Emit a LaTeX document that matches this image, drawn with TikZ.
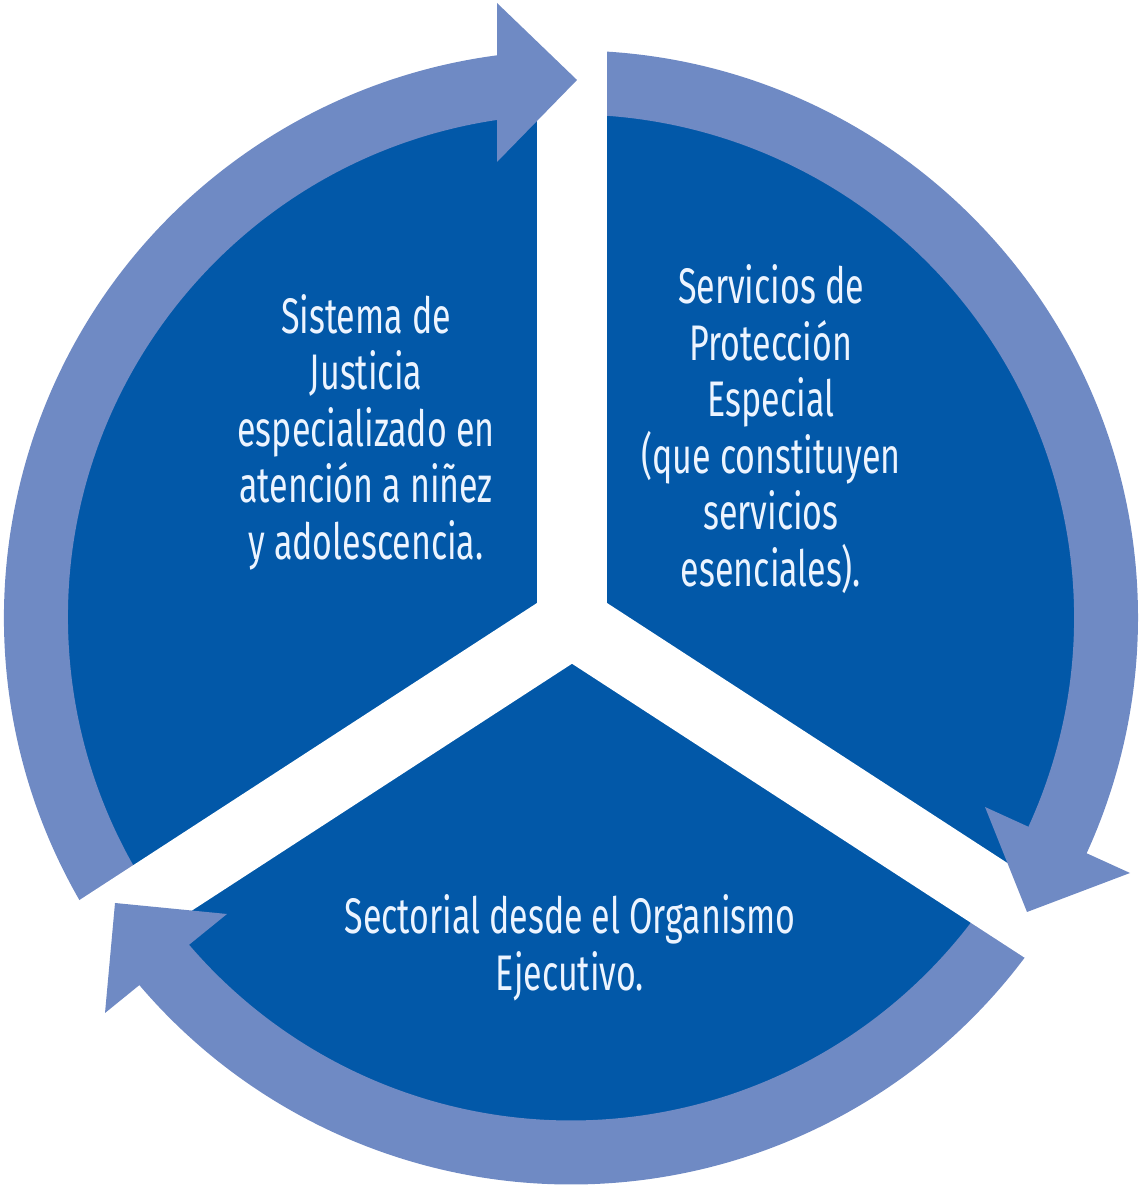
\documentclass[tikz,border=0pt]{standalone}
\usepackage{fontspec}
\setmainfont{Fira Sans}[FakeStretch=0.68]
\definecolor{darkblue}{RGB}{2,88,168}
\definecolor{lightblue}{RGB}{111,138,196}
\definecolor{txt}{RGB}{236,244,255}
\tikzset{
  ringpart/.style={fill=lightblue},
  gapbar/.style={draw=white,line width=70pt},
  label/.style={text=txt,align=center,font=\fontsize{50}{56.5}\selectfont,inner sep=0pt}
}
\begin{document}
\begin{tikzpicture}[x=1pt,y=1pt]
\useasboundingbox (0,0) rectangle (1140,1188);
\coordinate (O) at (571,570.5);
\coordinate (G) at (572,566);
% disc
\fill[darkblue] (O) circle[radius=505];
% ring bodies
\fill[ringpart] ([shift={(213:567)}]O) arc[start angle=213,end angle=97,radius=567]
  -- ([shift={(97:503)}]O) arc[start angle=97,end angle=213,radius=503] -- cycle;
\fill[ringpart] ([shift={(90:567)}]O) arc[start angle=90,end angle=-25.6,radius=567]
  -- ([shift={(-25.6:503)}]O) arc[start angle=-25.6,end angle=90,radius=503] -- cycle;
\fill[ringpart] ([shift={(-33:567)}]O) arc[start angle=-33,end angle=-140.5,radius=567]
  -- ([shift={(-140.5:503)}]O) arc[start angle=-140.5,end angle=-33,radius=503] -- cycle;
% white gaps
\draw[gapbar] (G) -- ++(90:700);
\draw[gapbar] (G) -- ++(213:700);
\draw[gapbar] (G) -- ++(-33:700);
% arrow heads
\coordinate (h1a) at (497,1185);
\coordinate (h1b) at (497,1026);
\coordinate (h1t) at (577,1108);
\coordinate (h2a) at (985,381);
\coordinate (h2b) at (1130,315);
\coordinate (h2t) at (1027,276);
\coordinate (h3a) at (227,274);
\coordinate (h3b) at (105,175);
\coordinate (h3t) at (115,285);
\fill[ringpart] (h1a) -- (h1t) -- (h1b) -- cycle;
\fill[ringpart] (h2a) -- (h2t) -- (h2b) -- cycle;
\fill[ringpart] (h3a) -- (h3t) -- (h3b) -- cycle;
% texts
\node[label] (t1) at (366,756) {Sistema de\\Justicia\\especializado en\\atención a niñez\\y adolescencia.};
\node[label] (t2) at (771,759) {Servicios de\\Protección\\Especial\\(que constituyen\\servicios\\esenciales).};
\node[label] (t3) at (570,240) {Sectorial desde el Organismo\\Ejecutivo.};
\end{tikzpicture}
\end{document}
